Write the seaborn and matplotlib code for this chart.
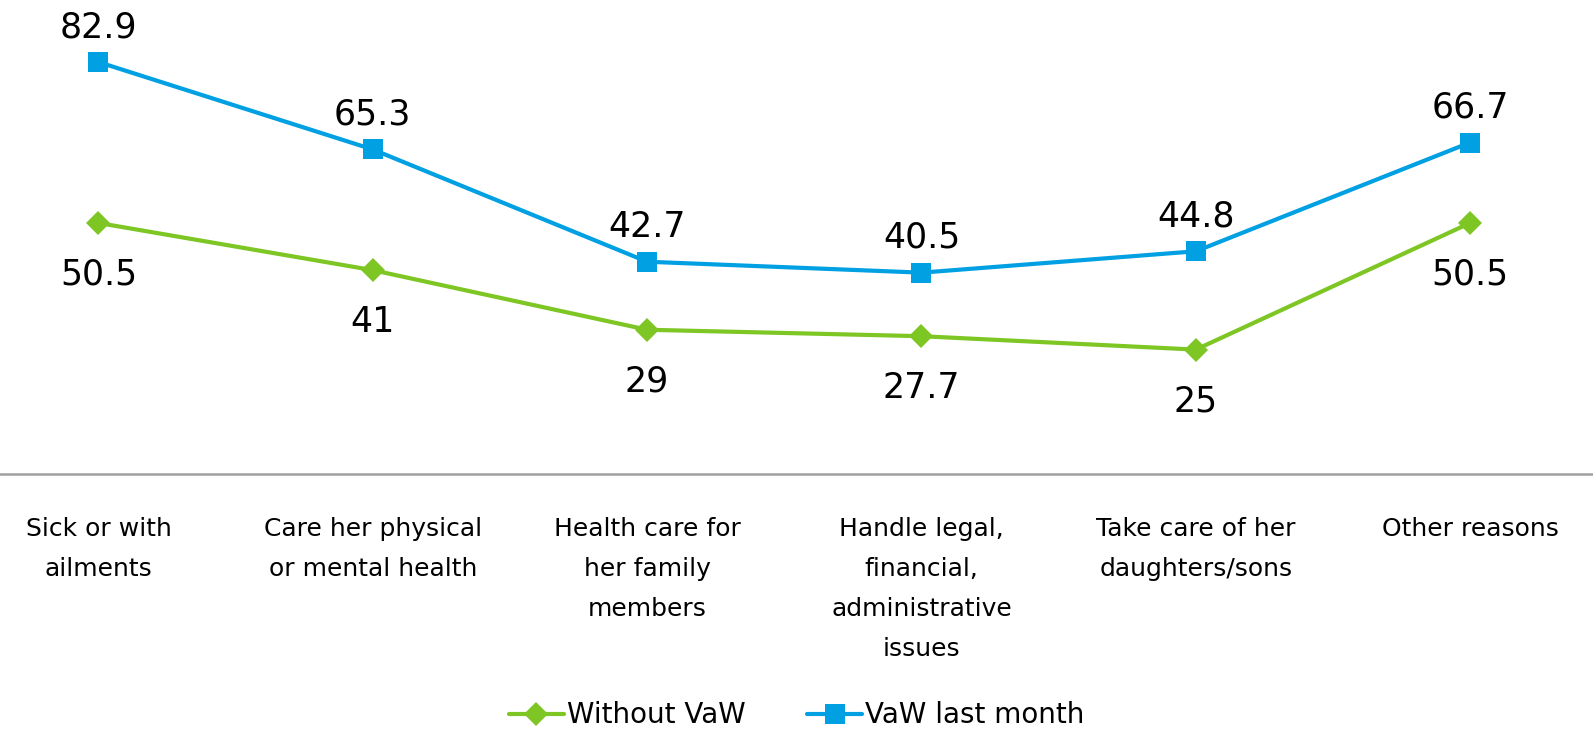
import numpy as np
import pandas as pd
import matplotlib
matplotlib.use("Agg")
import matplotlib.pyplot as plt
import seaborn as sns

categories = [
    "Sick or with\nailments",
    "Care her physical\nor mental health",
    "Health care for\nher family\nmembers",
    "Handle legal,\nfinancial,\nadministrative\nissues",
    "Take care of her\ndaughters/sons",
    "Other reasons",
]
without_vaw = [50.5, 41, 29, 27.7, 25, 50.5]
vaw_last_month = [82.9, 65.3, 42.7, 40.5, 44.8, 66.7]
series_names = ["Without VaW", "VaW last month"]
colors = {"Without VaW": "#7dc623", "VaW last month": "#00a0e2"}
markers = {"Without VaW": "D", "VaW last month": "s"}

sns.set_theme(style="white")
plt.rcParams["font.family"] = ["DejaVu Sans"]
plt.rcParams["text.color"] = "black"
plt.rcParams["xtick.color"] = "black"

df = pd.DataFrame({
    "pos": list(range(len(categories))) * 2,
    "value": without_vaw + vaw_last_month,
    "series": [series_names[0]] * len(categories) + [series_names[1]] * len(categories),
})

fig = plt.figure(figsize=(15.93, 7.30), dpi=100)
ax = fig.add_axes([0, 0.351, 1, 0.649])

sns.lineplot(
    data=df, x="pos", y="value", hue="series", style="series",
    palette=colors, markers=markers, dashes=False, linewidth=3,
    markersize=14, markeredgewidth=0, ax=ax, legend=False,
)
# diamonds a bit smaller than squares
for line in ax.get_lines():
    if line.get_marker() == "D":
        line.set_markersize(12)

for i, v in enumerate(vaw_last_month):
    ax.annotate(f"{v:g}", (i, v), xytext=(0, 25), textcoords="offset points",
                ha="center", va="center", fontsize=25, color="black")
for i, v in enumerate(without_vaw):
    ax.annotate(f"{v:g}", (i, v), xytext=(0, -37), textcoords="offset points",
                ha="center", va="center", fontsize=25, color="black")

ax.set_xlim(-0.359, 5.448)
ax.set_ylim(0, 95.4)
ax.set_yticks([])
ax.set_xticks(range(len(categories)))
ax.set_xticklabels(categories, fontsize=18, linespacing=1.85, va="top")
ax.tick_params(axis="x", length=0, pad=31)
ax.set_xlabel("")
ax.set_ylabel("")
for side in ["top", "left", "right"]:
    ax.spines[side].set_visible(False)
ax.spines["bottom"].set_color("#a0a0a0")
ax.spines["bottom"].set_linewidth(1.8)

handles = [
    plt.Line2D([], [], color=colors[n], marker=markers[n], lw=3,
               markersize=14 if markers[n] == "s" else 12, markeredgewidth=0)
    for n in series_names
]
fig.legend(handles, series_names, loc="center", bbox_to_anchor=(0.5, 0.02),
           ncol=2, frameon=False, fontsize=20, handlelength=2.0,
           handletextpad=0.1, columnspacing=2.2)

fig.savefig("out.png", dpi=100)
